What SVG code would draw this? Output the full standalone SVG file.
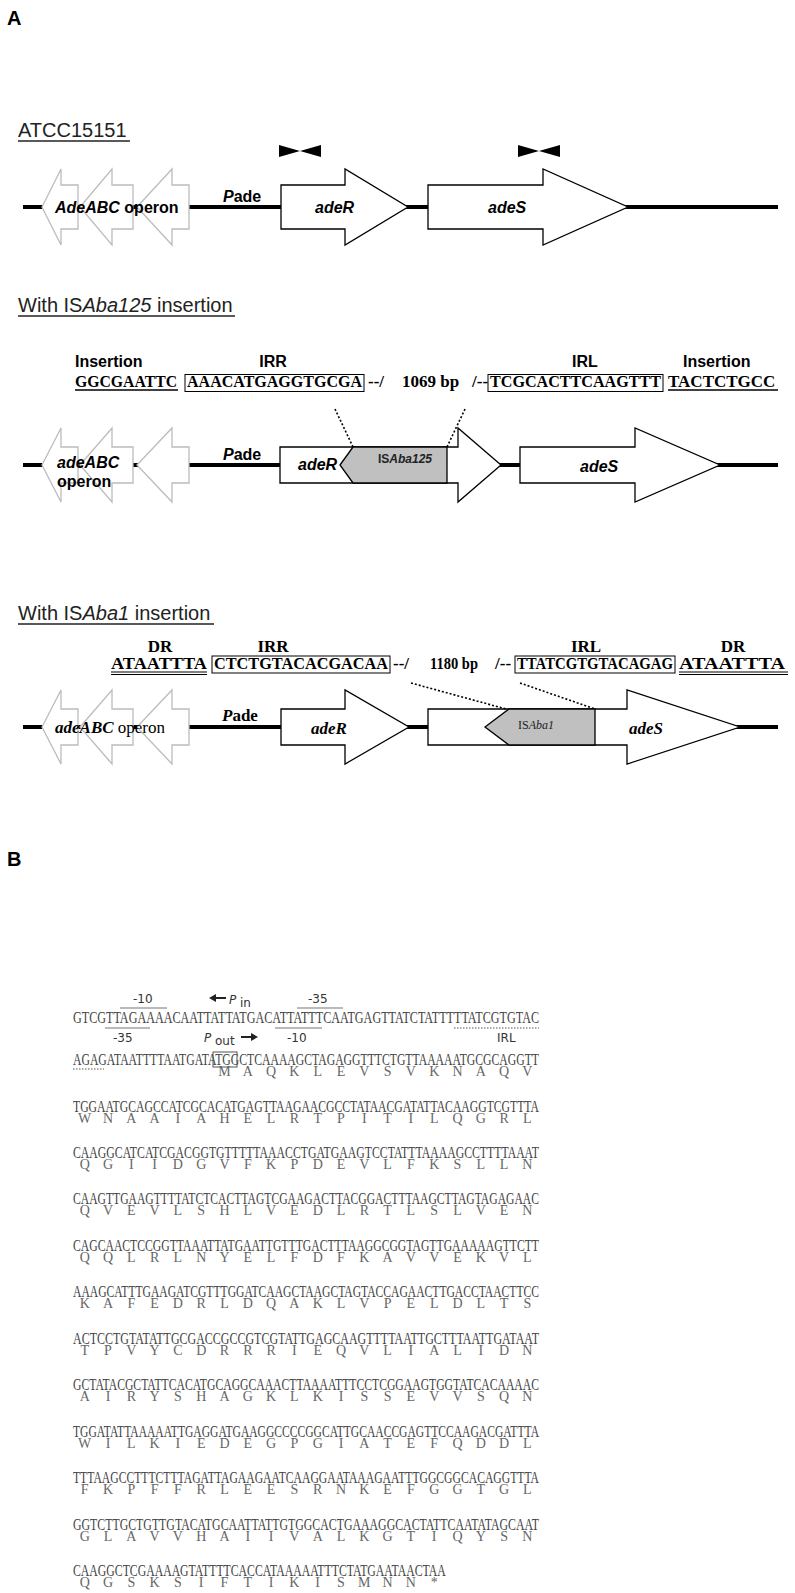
<svg xmlns="http://www.w3.org/2000/svg" width="795" height="1593" viewBox="0 0 795 1593">
<style>
.pan{font-family:"Liberation Sans",Arial,sans-serif;font-weight:bold;font-size:20px;fill:#000}
.hdr{font-family:"Liberation Sans",Arial,sans-serif;font-size:20px;fill:#222}
.ul{stroke:#222;stroke-width:1.3}
.lb{font-family:"Liberation Sans",Arial,sans-serif;font-weight:bold;font-size:16px;fill:#000}
.lbs{font-family:"Liberation Sans",Arial,sans-serif;font-size:12px;fill:#222}
.tb{font-family:"Liberation Serif","Times New Roman",serif;font-weight:bold;font-size:17px;fill:#000}
.ts{font-family:"Liberation Serif","Times New Roman",serif;font-size:12px;fill:#222}
.track{stroke:#000;stroke-width:4}
.gene{fill:#fff;stroke:#000;stroke-width:1.3}
.grey{fill:#fff;stroke:#bcbcbc;stroke-width:1.3}
.is{fill:#c0c0c0;stroke:#000;stroke-width:1.3}
.box{fill:none;stroke:#000;stroke-width:1}
.dot{stroke:#000;stroke-width:1.6;stroke-dasharray:2 2;fill:none}
.seq{font-family:"Liberation Serif","Times New Roman",serif;font-size:17px;fill:#444}
.aa{font-family:"Liberation Serif","Times New Roman",serif;font-size:14px;fill:#666;text-anchor:middle}
.pl{font-family:"DejaVu Sans",Verdana,sans-serif;font-size:12px;fill:#333}
.bar{stroke:#777;stroke-width:1.2}
.dbar{stroke:#555;stroke-width:1.2;stroke-dasharray:1.5 1.5}
</style>
<defs>
<path id="bow" d="M0,0 L0,12 L21,6 Z M42,0 L42,12 L21,6 Z" fill="#000"/>
</defs>
<rect width="795" height="1593" fill="#fff"/>

<text class="pan" x="7" y="25">A</text>

<!-- Track 1 -->
<g id="track1">
<text class="hdr" x="18" y="137">ATCC15151</text>
<line class="ul" x1="18" y1="141" x2="130" y2="141"/>
<line class="track" x1="23" y1="207" x2="778" y2="207"/>
<g id="t1-operon">
<polygon class="grey" points="42,207 61,169 61,185 78,185 78,229 61,229 61,245"/>
<polygon class="grey" points="80,207 112,169 112,185 133,185 133,229 112,229 112,245"/>
<polygon class="grey" points="137,207 172,169 172,185 189,185 189,229 172,229 172,245"/>
<text class="lb" x="55" y="213"><tspan font-style="italic">AdeABC</tspan> operon</text>
</g>
<text id="t1-pade" class="lb" x="223" y="202"><tspan font-style="italic">P</tspan>ade</text>
<g id="t1-adeR">
<polygon class="gene" points="281,185 345,185 345,169 408,207 345,245 345,229 281,229"/>
<text class="lb" x="315" y="213" font-style="italic">adeR</text>
</g>
<g id="t1-adeS">
<polygon class="gene" points="428,185 543,185 543,169 628,207 543,245 543,229 428,229"/>
<text class="lb" x="488" y="213" font-style="italic">adeS</text>
</g>
<use id="primer1" href="#bow" x="279" y="145"/>
<use id="primer2" href="#bow" x="518" y="145"/>
</g>

<!-- Track 2 -->
<g id="track2">
<text class="hdr" x="18" y="312">With IS<tspan font-style="italic">Aba125</tspan> insertion</text>
<line class="ul" x1="18" y1="316" x2="235" y2="316"/>
<g id="t2-seq">
<text class="lb" x="75" y="367">Insertion</text>
<text class="lb" x="273" y="367" text-anchor="middle">IRR</text>
<text class="lb" x="585" y="367" text-anchor="middle">IRL</text>
<text class="lb" x="683" y="367">Insertion</text>
<text class="tb" x="75" y="387" font-size="16" textLength="102" lengthAdjust="spacingAndGlyphs">GGCGAATTC</text>
<line x1="75" y1="390" x2="178" y2="390" stroke="#000" stroke-width="1.6"/>
<rect class="box" x="185" y="374.5" width="179" height="17"/>
<text class="tb" x="187" y="387" font-size="16" textLength="175" lengthAdjust="spacingAndGlyphs">AAACATGAGGTGCGA</text>
<text class="tb" x="368" y="387" font-size="16">--/</text>
<text class="tb" x="402" y="387" font-size="16">1069 bp</text>
<text class="tb" x="472" y="387" font-size="16">/--</text>
<rect class="box" x="488" y="374.5" width="175" height="17"/>
<text class="tb" x="490" y="387" font-size="16" textLength="171" lengthAdjust="spacingAndGlyphs">TCGCACTTCAAGTTT</text>
<text class="tb" x="668" y="387" font-size="16">TACTCTGCC</text>
<line x1="668" y1="390" x2="778" y2="390" stroke="#000" stroke-width="1.6"/>
</g>
<line class="track" x1="23" y1="465" x2="778" y2="465"/>
<g id="t2-operon">
<polygon class="grey" points="42,465 61,428 61,447 78,447 78,483 61,483 61,502"/>
<polygon class="grey" points="80,465 112,428 112,447 133,447 133,483 112,483 112,502"/>
<polygon class="grey" points="137,465 172,428 172,447 189,447 189,483 172,483 172,502"/>
<text class="lb" x="57" y="468" font-style="italic">adeABC</text>
<text class="lb" x="57" y="487">operon</text>
</g>
<text id="t2-pade" class="lb" x="223" y="460"><tspan font-style="italic">P</tspan>ade</text>
<g id="t2-adeR">
<polygon class="gene" points="280,447 458,447 458,428 501,465 458,502 458,483 280,483"/>
<text class="lb" x="298" y="470" font-style="italic">adeR</text>
</g>
<g id="t2-isaba125">
<polygon class="is" points="340,465 353,447 447,447 447,483 353,483"/>
<text class="lbs" x="378" y="463" font-weight="bold">IS<tspan font-style="italic">Aba125</tspan></text>
</g>
<g id="t2-adeS">
<polygon class="gene" points="520,447 635,447 635,428 720,465 635,502 635,483 520,483"/>
<text class="lb" x="580" y="472" font-style="italic">adeS</text>
</g>
</g>

<!-- Track 3 -->
<g id="track3">
<text class="hdr" x="18" y="620">With IS<tspan font-style="italic">Aba1</tspan> insertion</text>
<line class="ul" x1="18" y1="624" x2="214" y2="624"/>
<g id="t3-seq">
<text class="tb" x="160" y="652" text-anchor="middle">DR</text>
<text class="tb" x="273" y="652" text-anchor="middle">IRR</text>
<text class="tb" x="586" y="652" text-anchor="middle">IRL</text>
<text class="tb" x="733" y="652" text-anchor="middle">DR</text>
<text class="tb" x="111" y="669" textLength="96" lengthAdjust="spacingAndGlyphs">ATAATTTA</text>
<line x1="111" y1="672" x2="207" y2="672" stroke="#000" stroke-width="1"/>
<line x1="111" y1="674.5" x2="207" y2="674.5" stroke="#000" stroke-width="1"/>
<rect class="box" x="212" y="656" width="178" height="17"/>
<text class="tb" x="214" y="669" textLength="174" lengthAdjust="spacingAndGlyphs">CTCTGTACACGACAA</text>
<text class="tb" x="393" y="669">--/</text>
<text class="tb" x="430" y="669" textLength="48" lengthAdjust="spacingAndGlyphs">1180 bp</text>
<text class="tb" x="495" y="669">/--</text>
<rect class="box" x="515" y="656" width="160" height="17"/>
<text class="tb" x="517" y="669" textLength="156" lengthAdjust="spacingAndGlyphs">TTATCGTGTACAGAG</text>
<text class="tb" x="679" y="669" textLength="106" lengthAdjust="spacingAndGlyphs">ATAATTTA</text>
<line x1="679" y1="672" x2="788" y2="672" stroke="#000" stroke-width="1"/>
<line x1="679" y1="674.5" x2="788" y2="674.5" stroke="#000" stroke-width="1"/>
</g>
<line class="track" x1="23" y1="727" x2="778" y2="727"/>
<g id="t3-operon">
<polygon class="grey" points="42,727 61,690 61,709 78,709 78,745 61,745 61,764"/>
<polygon class="grey" points="80,727 112,690 112,709 133,709 133,745 112,745 112,764"/>
<polygon class="grey" points="137,727 172,690 172,709 189,709 189,745 172,745 172,764"/>
<text class="tb" x="55" y="733"><tspan font-style="italic">adeABC</tspan><tspan font-weight="normal"> operon</tspan></text>
</g>
<text id="t3-pade" class="tb" x="222" y="721"><tspan font-style="italic">P</tspan>ade</text>
<g id="t3-adeR">
<polygon class="gene" points="281,709 345,709 345,690 409,727 345,764 345,745 281,745"/>
<text class="tb" x="311" y="734" font-style="italic">adeR</text>
</g>
<g id="t3-adeS">
<polygon class="gene" points="428,709 627,709 627,690 740,727 627,764 627,745 428,745"/>
<text class="tb" x="629" y="734" font-style="italic">adeS</text>
</g>
<g id="t3-isaba1">
<polygon class="is" points="485,727 509,709 595,709 595,745 509,745"/>
<text class="ts" x="518" y="729">IS<tspan font-style="italic">Aba1</tspan></text>
</g>
</g>

<g id="connectors">
<line class="dot" x1="335" y1="409" x2="353" y2="447"/>
<line class="dot" x1="465" y1="409" x2="447" y2="447"/>
<line class="dot" x1="411" y1="683" x2="506" y2="709"/>
<line class="dot" x1="520" y1="683" x2="595" y2="709"/>
</g>

<!-- Panel B -->
<text class="pan" x="7" y="866">B</text>
<g id="promoter">
<text class="pl" x="133" y="1003">-10</text>
<line class="bar" x1="120" y1="1008" x2="167" y2="1008"/>
<line x1="214" y1="998" x2="226" y2="998" stroke="#222" stroke-width="2"/>
<polygon points="209,998 216,994 216,1002" fill="#222"/>
<text class="pl" x="229" y="1004" font-size="16" font-style="italic">P</text>
<text class="pl" x="240" y="1007" font-size="11">in</text>
<text class="pl" x="308" y="1003">-35</text>
<line class="bar" x1="297" y1="1008" x2="343" y2="1008"/>
<text class="seq" x="73" y="1023" textLength="466" lengthAdjust="spacingAndGlyphs">GTCGTTAGAAAACAATTATTATGACATTATTTCAATGAGTTATCTATTTTTATCGTGTAC</text>
<line class="bar" x1="105" y1="1028" x2="150" y2="1028"/>
<line class="bar" x1="275" y1="1028" x2="322" y2="1028"/>
<line class="dbar" x1="454" y1="1028" x2="539" y2="1028"/>
<text class="pl" x="113" y="1042">-35</text>
<text class="pl" x="204" y="1042" font-size="16" font-style="italic">P</text>
<text class="pl" x="215" y="1045" font-size="11">out</text>
<line x1="241" y1="1037" x2="253" y2="1037" stroke="#222" stroke-width="2"/>
<polygon points="258,1037 251,1033 251,1041" fill="#222"/>
<text class="pl" x="287" y="1042">-10</text>
<text class="pl" x="497" y="1042">IRL</text>
</g>

<g id="sequence">
<text class="seq" x="73" y="1065" textLength="466" lengthAdjust="spacingAndGlyphs">AGAGATAATTTTAATGATATGGCTCAAAAGCTAGAGGTTTCTGTTAAAAATGCGCAGGTT</text>
<line class="dbar" x1="73" y1="1069" x2="104" y2="1069"/>
<rect x="213" y="1052" width="24" height="15" fill="none" stroke="#555" stroke-width="1"/>
<text class="aa" y="1076" x="224.5 247.8 271.1 294.4 317.7 341.0 364.3 387.6 410.9 434.2 457.5 480.8 504.1 527.4">MAQKLEVSVKNAQV</text>

<text class="seq" x="73" y="1111.5" textLength="466" lengthAdjust="spacingAndGlyphs">TGGAATGCAGCCATCGCACATGAGTTAAGAACGCCTATAACGATATTACAAGGTCGTTTA</text>
<text class="aa" y="1122.5" x="84.7 108.0 131.3 154.6 177.9 201.2 224.5 247.8 271.1 294.4 317.7 341.0 364.3 387.6 410.9 434.2 457.5 480.8 504.1 527.4">WNAAIAHELRTPITILQGRL</text>

<text class="seq" x="73" y="1157.9" textLength="466" lengthAdjust="spacingAndGlyphs">CAAGGCATCATCGACGGTGTTTTTAAACCTGATGAAGTCCTATTTAAAAGCCTTTTAAAT</text>
<text class="aa" y="1168.9" x="84.7 108.0 131.3 154.6 177.9 201.2 224.5 247.8 271.1 294.4 317.7 341.0 364.3 387.6 410.9 434.2 457.5 480.8 504.1 527.4">QGIIDGVFKPDEVLFKSLLN</text>

<text class="seq" x="73" y="1204.4" textLength="466" lengthAdjust="spacingAndGlyphs">CAAGTTGAAGTTTTATCTCACTTAGTCGAAGACTTACGGACTTTAAGCTTAGTAGAGAAC</text>
<text class="aa" y="1215.4" x="84.7 108.0 131.3 154.6 177.9 201.2 224.5 247.8 271.1 294.4 317.7 341.0 364.3 387.6 410.9 434.2 457.5 480.8 504.1 527.4">QVEVLSHLVEDLRTLSLVEN</text>

<text class="seq" x="73" y="1250.8" textLength="466" lengthAdjust="spacingAndGlyphs">CAGCAACTCCGGTTAAATTATGAATTGTTTGACTTTAAGGCGGTAGTTGAAAAAGTTCTT</text>
<text class="aa" y="1261.8" x="84.7 108.0 131.3 154.6 177.9 201.2 224.5 247.8 271.1 294.4 317.7 341.0 364.3 387.6 410.9 434.2 457.5 480.8 504.1 527.4">QQLRLNYELFDFKAVVEKVL</text>

<text class="seq" x="73" y="1297.3" textLength="466" lengthAdjust="spacingAndGlyphs">AAAGCATTTGAAGATCGTTTGGATCAAGCTAAGCTAGTACCAGAACTTGACCTAACTTCC</text>
<text class="aa" y="1308.3" x="84.7 108.0 131.3 154.6 177.9 201.2 224.5 247.8 271.1 294.4 317.7 341.0 364.3 387.6 410.9 434.2 457.5 480.8 504.1 527.4">KAFEDRLDQAKLVPELDLTS</text>

<text class="seq" x="73" y="1343.7" textLength="466" lengthAdjust="spacingAndGlyphs">ACTCCTGTATATTGCGACCGCCGTCGTATTGAGCAAGTTTTAATTGCTTTAATTGATAAT</text>
<text class="aa" y="1354.7" x="84.7 108.0 131.3 154.6 177.9 201.2 224.5 247.8 271.1 294.4 317.7 341.0 364.3 387.6 410.9 434.2 457.5 480.8 504.1 527.4">TPVYCDRRRIEQVLIALIDN</text>

<text class="seq" x="73" y="1390.2" textLength="466" lengthAdjust="spacingAndGlyphs">GCTATACGCTATTCACATGCAGGCAAACTTAAAATTTCCTCGGAAGTGGTATCACAAAAC</text>
<text class="aa" y="1401.2" x="84.7 108.0 131.3 154.6 177.9 201.2 224.5 247.8 271.1 294.4 317.7 341.0 364.3 387.6 410.9 434.2 457.5 480.8 504.1 527.4">AIRYSHAGKLKISSEVVSQN</text>

<text class="seq" x="73" y="1436.6" textLength="466" lengthAdjust="spacingAndGlyphs">TGGATATTAAAAATTGAGGATGAAGGCCCCGGCATTGCAACCGAGTTCCAAGACGATTTA</text>
<text class="aa" y="1447.6" x="84.7 108.0 131.3 154.6 177.9 201.2 224.5 247.8 271.1 294.4 317.7 341.0 364.3 387.6 410.9 434.2 457.5 480.8 504.1 527.4">WILKIEDEGPGIATEFQDDL</text>

<text class="seq" x="73" y="1483.1" textLength="466" lengthAdjust="spacingAndGlyphs">TTTAAGCCTTTCTTTAGATTAGAAGAATCAAGGAATAAAGAATTTGGCGGCACAGGTTTA</text>
<text class="aa" y="1494.1" x="84.7 108.0 131.3 154.6 177.9 201.2 224.5 247.8 271.1 294.4 317.7 341.0 364.3 387.6 410.9 434.2 457.5 480.8 504.1 527.4">FKPFFRLEESRNKEFGGTGL</text>

<text class="seq" x="73" y="1529.5" textLength="466" lengthAdjust="spacingAndGlyphs">GGTCTTGCTGTTGTACATGCAATTATTGTGGCACTGAAAGGCACTATTCAATATAGCAAT</text>
<text class="aa" y="1540.5" x="84.7 108.0 131.3 154.6 177.9 201.2 224.5 247.8 271.1 294.4 317.7 341.0 364.3 387.6 410.9 434.2 457.5 480.8 504.1 527.4">GLAVVHAIIVALKGTIQYSN</text>

<text class="seq" x="73" y="1576" textLength="372.8" lengthAdjust="spacingAndGlyphs">CAAGGCTCGAAAAGTATTTTCACCATAAAAATTTCTATGAATAACTAA</text>
<text class="aa" y="1587" x="84.7 108.0 131.3 154.6 177.9 201.2 224.5 247.8 271.1 294.4 317.7 341.0 364.3 387.6 410.9 434.2">QGSKSIFTIKISMNN*</text>
</g>
</svg>
